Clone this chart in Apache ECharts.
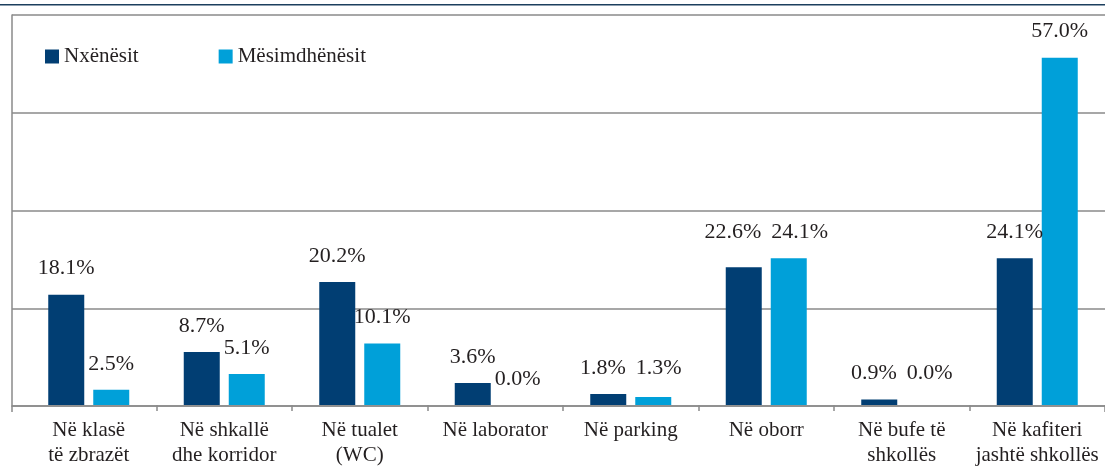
<!DOCTYPE html>
<html>
<head>
<meta charset="utf-8">
<script src="https://cdn.jsdelivr.net/npm/echarts@6/dist/echarts.min.js"></script>
<style>
  html, body { margin: 0; padding: 0; background: #fff; }
  #chart { width: 1105px; height: 468px; }
</style>
</head>
<body>
<div id="chart"></div>
<script>
// vendndodhjet ku ndodh dhuna
const categories = [
  'Në klasë\ntë zbrazët',
  'Në shkallë\ndhe korridor',
  'Në tualet\n(WC)',
  'Në laborator',
  'Në parking',
  'Në oborr',
  'Në bufe të\nshkollës',
  'Në kafiteri\njashtë shkollës'
]
const seriesNames = ['Nxënësit', 'Mësimdhënësit']
const nxenesit = [18.1, 8.7, 20.2, 3.6, 1.8, 22.6, 0.9, 24.1]
const mesimdhenesit = [2.5, 5.1, 10.1, 0.0, 1.3, 24.1, 0.0, 57.0]
const yTicks = [0, 16, 32, 48, 64]

const font = 'Liberation Serif'
const gridColor = '#8a8a8a'
const gridTop = 15
const gridBottom = 62
const barWidth = 36
const barGapPx = 9

const chart = echarts.init(document.getElementById('chart'))

const barLabel = {
  show: true,
  position: 'top',
  distance: 15,
  fontFamily: font,
  fontSize: 22,
  color: '#231f20',
  formatter: p => p.value.toFixed(1) + '%'
}

// kur dy etiketat e nje kategorie perplasen, i vendos ne te njejten lartesi dhe i largon anash
function labelLayout(params) {
  const i = params.dataIndex
  const s = params.seriesIndex
  const own = s === 0 ? nxenesit[i] : mesimdhenesit[i]
  const other = s === 0 ? mesimdhenesit[i] : nxenesit[i]
  const pxPerUnit = (468 - gridTop - gridBottom) / (yTicks[yTicks.length - 1] - yTicks[0])
  const diffPx = (other - own) * pxPerUnit
  const step = barWidth + barGapPx
  if (Math.abs(diffPx) < 18 && params.labelRect.width + 6 > step) {
    const push = (params.labelRect.width + 10 - step) / 2
    return {
      dx: s === 0 ? -push : push,
      dy: diffPx > 0 ? -diffPx : 0
    }
  }
  return {}
}

chart.setOption({
  animation: false,
  textStyle: { fontFamily: font },
  graphic: [
    // dark rule at the top of the page
    { type: 'rect', left: 0, top: 4, shape: { width: 1105, height: 1.5 }, style: { fill: '#1c3f5e' } }
  ],
  legend: {
    data: seriesNames,
    left: 45,
    top: 46,
    padding: 0,
    icon: 'rect',
    itemWidth: 14,
    itemHeight: 14,
    itemGap: 80,
    textStyle: { fontFamily: font, fontSize: 21, color: '#231f20' }
  },
  grid: [
    // bars
    { left: 21, width: 1085, top: gridTop, bottom: gridBottom },
    // frame + gridlines
    { left: 12, right: 0, top: gridTop, bottom: gridBottom }
  ],
  xAxis: [
    {
      type: 'category',
      gridIndex: 0,
      data: categories,
      axisLine: { show: false },
      axisTick: {
        show: true,
        length: 6,
        interval: idx => idx !== 0,
        lineStyle: { color: gridColor, width: 1.5 }
      },
      axisLabel: {
        interval: 0,
        margin: 13,
        fontFamily: font,
        fontSize: 21,
        lineHeight: 25,
        color: '#231f20'
      }
    },
    {
      type: 'value',
      gridIndex: 1,
      min: 0,
      max: 1,
      interval: 1,
      axisLine: { show: true, lineStyle: { color: gridColor, width: 1.5 } },
      axisTick: { show: true, length: 6, lineStyle: { color: gridColor, width: 1.5 } },
      axisLabel: { show: false },
      splitLine: { show: false }
    }
  ],
  yAxis: [
    {
      type: 'value',
      gridIndex: 0,
      min: yTicks[0],
      max: yTicks[yTicks.length - 1],
      interval: yTicks[1] - yTicks[0],
      show: false
    },
    {
      type: 'value',
      gridIndex: 1,
      min: yTicks[0],
      max: yTicks[yTicks.length - 1],
      interval: yTicks[1] - yTicks[0],
      axisLine: { show: true, lineStyle: { color: gridColor, width: 1.5 } },
      axisTick: { show: false },
      axisLabel: { show: false },
      splitLine: { show: true, lineStyle: { color: gridColor, width: 1.5 } }
    }
  ],
  series: [
    {
      name: seriesNames[0],
      type: 'bar',
      xAxisIndex: 0,
      yAxisIndex: 0,
      data: nxenesit,
      barWidth: barWidth,
      barGap: (barGapPx / barWidth * 100) + '%',
      itemStyle: { color: '#013e73' },
      label: barLabel,
      labelLayout: labelLayout
    },
    {
      name: seriesNames[1],
      type: 'bar',
      xAxisIndex: 0,
      yAxisIndex: 0,
      data: mesimdhenesit,
      barWidth: barWidth,
      barGap: (barGapPx / barWidth * 100) + '%',
      itemStyle: { color: '#00a0d9' },
      label: barLabel,
      labelLayout: labelLayout
    }
  ]
})
</script>
</body>
</html>
